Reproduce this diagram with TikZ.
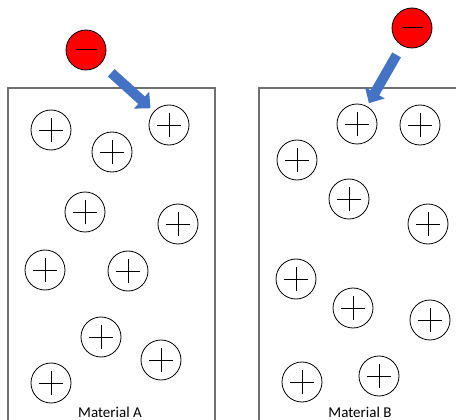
\documentclass[tikz,border=0pt]{standalone}
\usepackage{fontspec}
\setmainfont{Carlito}
\usetikzlibrary{arrows.meta}
\definecolor{boxgray}{RGB}{112,112,112}
\definecolor{pushblue}{RGB}{68,114,196}

\begin{document}
\begin{tikzpicture}[x=1pt,y=-1pt]
\tikzstyle{every node}+=[inner sep=0pt,outer sep=0pt]
\tikzstyle{box}=[boxgray,line width=1.6pt]
\tikzstyle{ion}=[draw,circle,minimum size=40pt,line width=0.8pt,
  path picture={
    \draw [line width=0.8pt] ([xshift=-12pt]path picture bounding box.center) -- ([xshift=12pt]path picture bounding box.center);
    \draw [line width=0.8pt] ([yshift=-12pt]path picture bounding box.center) -- ([yshift=12pt]path picture bounding box.center);}]
\tikzstyle{electron}=[draw,circle,fill=red,minimum size=40pt,line width=0.8pt,
  path picture={
    \draw [line width=1pt] ([xshift=-10.5pt]path picture bounding box.center) -- ([xshift=10.5pt]path picture bounding box.center);}]
\tikzstyle{push}=[pushblue,line width=10pt,-{Triangle[width=22pt,length=12pt]}]
\tikzstyle{caption}=[anchor=base,font=\fontsize{15}{18}\selectfont]
\useasboundingbox (0,0) rectangle (456,420);
\clip (0,0) rectangle (456,420);
% the two materials
\draw [box] (8,430) -- (8,88) -- (215,88) -- (215,430);
\draw [box] (259,430) -- (259,88) -- (470,88);
% material A
\node [ion] (pA1) at (51,130) {};
\node [ion] (pA2) at (112,152) {};
\node [ion] (pA3) at (169,125) {};
\node [ion] (pA4) at (85,212) {};
\node [ion] (pA5) at (178,224) {};
\node [ion] (pA6) at (45,270) {};
\node [ion] (pA7) at (128,271) {};
\node [ion] (pA8) at (101,337) {};
\node [ion] (pA9) at (161,360) {};
\node [ion] (pA10) at (51,383) {};
\node [caption] (labA) at (110,417) {Material A};
% material B
\node [ion] (pB1) at (357,124) {};
\node [ion] (pB2) at (420,125) {};
\node [ion] (pB3) at (297,160) {};
\node [ion] (pB4) at (349,199) {};
\node [ion] (pB5) at (428,224) {};
\node [ion] (pB6) at (296,279) {};
\node [ion] (pB7) at (353,308) {};
\node [ion] (pB8) at (430,320) {};
\node [ion] (pB9) at (302,382) {};
\node [ion] (pB10) at (379,376) {};
\node [caption] (labB) at (360,417) {Material B};
% incoming electrons
\node [electron] (eA) at (86,50) {};
\node [electron] (eB) at (412,28) {};
\draw [push,shorten <=14pt,shorten >=5pt] (eA) -- (pA3);
\draw [push,shorten <=11pt,shorten >=4pt] (eB) -- (pB1);
\end{tikzpicture}
\end{document}
